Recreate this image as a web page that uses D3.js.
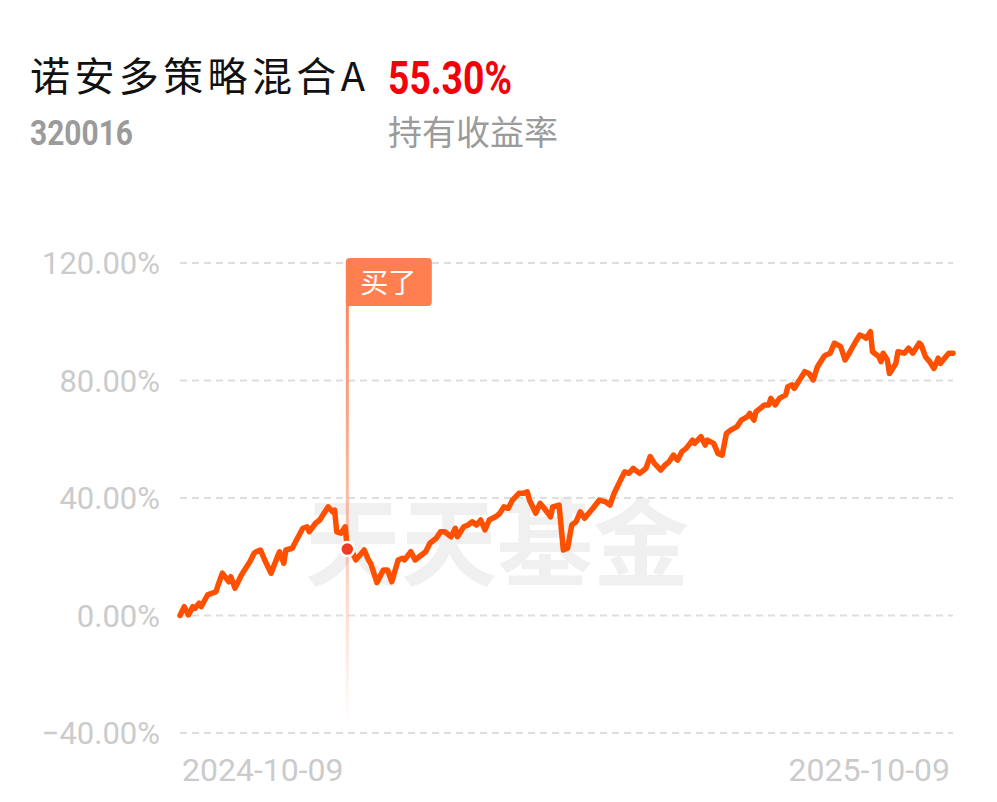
<!DOCTYPE html>
<html><head><meta charset="utf-8">
<script src="https://cdn.jsdelivr.net/npm/d3@7"></script>
<style>html,body{margin:0;padding:0;background:#fff;} svg{display:block}</style>
</head><body>
<svg id="c" width="997" height="802"></svg>
<script>
const fundName = "诺安多策略混合A";
const fundCode = "320016";
const holdReturn = "55.30%";
const holdLabel = "持有收益率";
const watermarkText = "天天基金";
const buyLabel = "买了";
const buyDate = "2024-12-27";
const yTicks = [-40, 0, 40, 80, 120];
const xTickLabels = ["2024-10-09", "2025-10-09"];

const dates = [
"2024-10-09","2024-10-11","2024-10-13","2024-10-15","2024-10-16","2024-10-18","2024-10-19","2024-10-22","2024-10-26","2024-10-27",
"2024-10-29","2024-11-01","2024-11-02","2024-11-04","2024-11-07","2024-11-09","2024-11-11","2024-11-13","2024-11-14","2024-11-16",
"2024-11-18","2024-11-21","2024-11-24","2024-11-25","2024-11-27","2024-11-28","2024-12-01","2024-12-03","2024-12-06","2024-12-08",
"2024-12-09","2024-12-12","2024-12-14","2024-12-16","2024-12-18","2024-12-20","2024-12-21","2024-12-22","2024-12-24","2024-12-26",
"2024-12-27","2024-12-29","2024-12-31","2025-01-04","2025-01-06","2025-01-07","2025-01-10","2025-01-13","2025-01-15","2025-01-17",
"2025-01-20","2025-01-22","2025-01-23","2025-01-26","2025-01-28","2025-01-31","2025-02-02","2025-02-04","2025-02-07","2025-02-09",
"2025-02-11","2025-02-14","2025-02-16","2025-02-17","2025-02-20","2025-02-22","2025-02-24","2025-02-26","2025-02-28","2025-03-02",
"2025-03-04","2025-03-07","2025-03-09","2025-03-11","2025-03-13","2025-03-15","2025-03-18","2025-03-20","2025-03-22","2025-03-23",
"2025-03-26","2025-03-28","2025-03-30","2025-04-02","2025-04-03","2025-04-06","2025-04-08","2025-04-10","2025-04-12","2025-04-14",
"2025-04-16","2025-04-18","2025-04-20","2025-04-22","2025-04-25","2025-04-28","2025-04-30","2025-05-02","2025-05-05","2025-05-07",
"2025-05-09","2025-05-11","2025-05-14","2025-05-17","2025-05-19","2025-05-21","2025-05-24","2025-05-26","2025-05-28","2025-05-30",
"2025-06-01","2025-06-03","2025-06-05","2025-06-08","2025-06-09","2025-06-12","2025-06-14","2025-06-15","2025-06-18","2025-06-20",
"2025-06-22","2025-06-24","2025-06-26","2025-06-29","2025-07-01","2025-07-04","2025-07-05","2025-07-07","2025-07-08","2025-07-11",
"2025-07-12","2025-07-14","2025-07-15","2025-07-17","2025-07-19","2025-07-22","2025-07-23","2025-07-25","2025-07-26","2025-07-29",
"2025-07-31","2025-08-02","2025-08-04","2025-08-06","2025-08-09","2025-08-10","2025-08-12","2025-08-14","2025-08-17","2025-08-19",
"2025-08-21","2025-08-24","2025-08-26","2025-08-28","2025-08-29","2025-08-31","2025-09-01","2025-09-04","2025-09-05","2025-09-06",
"2025-09-08","2025-09-09","2025-09-12","2025-09-13","2025-09-16","2025-09-18","2025-09-20","2025-09-23","2025-09-24","2025-09-26",
"2025-09-28","2025-09-30","2025-10-02","2025-10-03","2025-10-05","2025-10-07","2025-10-09"
];
const values = [
0.0,3.0,0.2,3.0,2.4,4.2,3.0,7.0,8.1,10.4,
14.4,11.5,13.2,9.3,13.8,16.1,18.3,21.2,21.7,22.3,
18.9,14.4,20.0,21.7,17.8,22.3,22.9,25.7,29.7,30.2,
28.5,31.4,32.5,34.8,37.0,35.3,35.9,28.5,28.0,30.2,
22.6,22.3,18.9,22.3,18.9,17.8,11.2,15.5,15.5,11.5,
18.9,19.5,18.9,21.7,18.9,20.6,21.7,24.6,26.3,28.5,
28.5,26.8,29.7,26.8,30.2,30.8,31.9,30.8,32.5,29.1,
32.5,33.6,34.8,37.0,36.5,39.3,41.6,41.6,42.1,39.3,
34.8,38.2,36.5,33.6,37.0,37.6,22.3,22.9,30.8,31.9,
35.3,33.1,34.8,36.5,39.3,38.7,37.6,41.6,46.1,48.9,
48.4,50.1,48.4,50.1,54.1,51.8,49.5,51.2,52.4,54.6,
52.9,55.8,56.9,59.7,58.6,60.9,58.0,59.7,58.6,55.2,
54.6,62.0,63.1,64.3,66.5,67.7,68.8,66.5,69.4,71.1,
71.7,71.7,73.9,71.7,73.9,75.1,77.9,78.5,77.3,80.7,
83.0,82.4,80.2,84.7,88.1,88.7,89.3,92.7,91.5,87.0,
89.3,93.2,95.5,94.9,94.4,96.6,89.8,88.1,86.4,89.3,
87.0,82.4,85.8,89.8,89.3,91.0,89.3,92.7,92.1,88.1,
86.4,84.1,87.6,85.8,87.6,89.3,89.3
];

const parse = d3.timeParse("%Y-%m-%d");
const data = dates.map((d, i) => ({ date: parse(d), value: values[i] }));

const svg = d3.select("#c");
const x = d3.scaleTime().domain([parse(xTickLabels[0]), parse(xTickLabels[1])]).range([180, 953]);
const y = d3.scaleLinear().domain([-40, 120]).range([733, 263]);

const cjk = "'Noto Sans CJK SC', 'Noto Sans', sans-serif";
const num = "Roboto, 'Noto Sans', sans-serif";

// Header
svg.append("text").attr("x", 30).attr("y", 91)
  .attr("font-family", cjk).attr("font-size", 40).attr("fill", "#111")
  .attr("textLength", 335).attr("lengthAdjust", "spacing")
  .text(fundName);
svg.append("text").attr("x", 388).attr("y", 94)
  .attr("font-family", num).attr("font-weight", 700).attr("font-size", 46).attr("fill", "#f5000a")
  .attr("textLength", 124).attr("lengthAdjust", "spacingAndGlyphs")
  .text(holdReturn);
svg.append("text").attr("x", 30).attr("y", 145)
  .attr("font-family", num).attr("font-weight", 700).attr("font-size", 35).attr("fill", "#9b9b9b")
  .attr("textLength", 103).attr("lengthAdjust", "spacingAndGlyphs")
  .text(fundCode);
svg.append("text").attr("x", 388).attr("y", 145)
  .attr("font-family", cjk).attr("font-size", 34).attr("fill", "#9b9b9b")
  .text(holdLabel);

// Watermark
svg.append("text").attr("x", 497).attr("y", 578).attr("text-anchor", "middle")
  .attr("font-family", cjk).attr("font-weight", 700).attr("font-size", 96).attr("fill", "#f0f0f0")
  .text(watermarkText);

// Grid + y labels
const grid = svg.append("g");
grid.selectAll("line").data(yTicks).join("line")
  .attr("x1", 180).attr("x2", 953)
  .attr("y1", d => y(d)).attr("y2", d => y(d))
  .attr("stroke", "#dedede").attr("stroke-width", 2).attr("stroke-dasharray", "7,5");
grid.selectAll("text").data(yTicks).join("text")
  .attr("x", 160).attr("y", d => y(d) + 11).attr("text-anchor", "end")
  .attr("font-family", num).attr("font-size", 31).attr("fill", "#cbcbcb")
  .text(d => d3.format(".2f")(d) + "%");

// X labels
svg.selectAll("text.xl").data(xTickLabels).join("text").attr("class", "xl")
  .attr("x", (d, i) => i === 0 ? x(parse(d)) + 2 : x(parse(d)) - 3)
  .attr("y", 781)
  .attr("text-anchor", (d, i) => i === 0 ? "start" : "end")
  .attr("font-family", num).attr("font-size", 32).attr("fill", "#cbcbcb")
  .text(d => d);

// Buy marker
const bd = parse(buyDate);
const bx = x(bd);
const bv = data.find(d => +d.date === +bd).value;
const defs = svg.append("defs");
const g = defs.append("linearGradient").attr("id", "vg").attr("gradientUnits", "userSpaceOnUse")
  .attr("x1", 0).attr("x2", 0).attr("y1", 300).attr("y2", 725);
g.append("stop").attr("offset", 0).attr("stop-color", "#ff7f50").attr("stop-opacity", 0.95);
g.append("stop").attr("offset", 0.55).attr("stop-color", "#ff7f50").attr("stop-opacity", 0.45);
g.append("stop").attr("offset", 1).attr("stop-color", "#ff7f50").attr("stop-opacity", 0);
svg.append("rect").attr("x", bx - 1.5).attr("y", 300).attr("width", 3).attr("height", 425)
  .attr("fill", "url(#vg)");
svg.append("rect").attr("x", bx - 1.5).attr("y", 258).attr("width", 86).attr("height", 48)
  .attr("rx", 4).attr("fill", "#ff7f50");
svg.append("text").attr("x", bx + 41).attr("y", 293).attr("text-anchor", "middle")
  .attr("font-family", cjk).attr("font-size", 28).attr("fill", "#fff")
  .text(buyLabel);

// Line
const line = d3.line().x(d => x(d.date)).y(d => y(d.value));
svg.append("path").datum(data).attr("d", line)
  .attr("fill", "none").attr("stroke", "#ff5000").attr("stroke-width", 5.5)
  .attr("stroke-linejoin", "round").attr("stroke-linecap", "round");

// Buy dot
svg.append("circle").attr("cx", bx).attr("cy", y(bv)).attr("r", 7)
  .attr("fill", "#f03c1e").attr("stroke", "#fff").attr("stroke-width", 2.5);
</script>
</body></html>
